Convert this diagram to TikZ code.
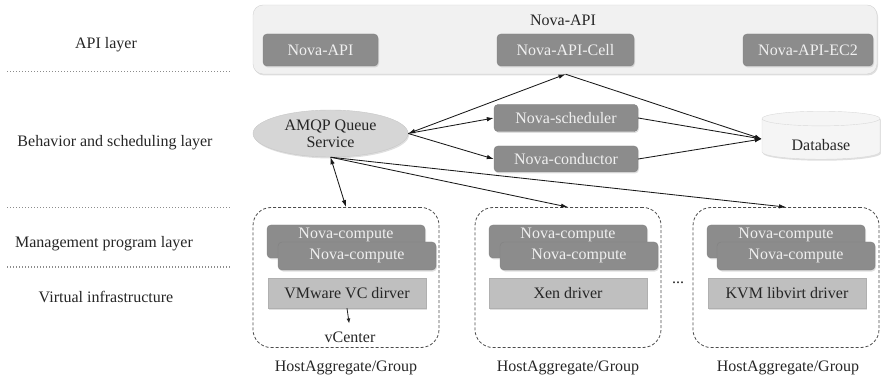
\documentclass[tikz,border=0pt]{standalone}
\usepackage{fontspec}
\setmainfont{Liberation Serif}
\usetikzlibrary{arrows.meta,positioning,shapes.geometric,shadows}

\definecolor{boxdark}{HTML}{8C8C8C}
\definecolor{boxlight}{HTML}{BFBFBF}
\definecolor{panel}{HTML}{F1F1F1}
\definecolor{panelline}{HTML}{D2D2D2}
\definecolor{inkgray}{HTML}{262626}

\begin{document}
\begin{tikzpicture}[x=1pt, y=-1pt,
    every node/.style={font=\fontsize{16}{18}\selectfont, text=inkgray, inner sep=2pt},
    softshadow/.style={drop shadow={opacity=0.25, shadow xshift=1pt, shadow yshift=-1.5pt}},
    darkbox/.style={draw=boxdark!92!black, fill=boxdark, rounded corners=4pt, text=white!94!black, minimum height=32pt, inner sep=0pt, softshadow},
    drvbox/.style={draw=boxlight!92!black, fill=boxlight, minimum width=158pt, minimum height=30pt, inner sep=0pt, softshadow},
    grpbox/.style={draw=black!70, dash pattern=on 3pt off 2pt, rounded corners=18pt, minimum width=186pt, minimum height=140pt, line width=0.8pt},
    link/.style={-{Latex[length=7pt, width=4.5pt]}, line width=0.85pt, black!90},
    twoway/.style={{Latex[length=7pt, width=4.5pt]}-{Latex[length=7pt, width=4.5pt]}, line width=0.85pt, black!90},
    layerline/.style={dotted, line width=1pt, black!45}]

    \useasboundingbox (0,0) rectangle (881,382);

    % layer names on the left
    \node (lapi) at (106,45) {API layer};
    \node (lsched) at (115,143) {Behavior and scheduling layer};
    \node (lmgmt) at (104,244) {Management program layer};
    \node (lvirt) at (106,297) {Virtual infrastructure};
    \draw[layerline] (7,72) -- (230,72);
    \draw[layerline] (7,208) -- (230,208);
    \draw[layerline] (7,267) -- (230,267);

    % API layer
    \node[fill=panel, draw=panelline, rounded corners=10pt, minimum width=624pt, minimum height=69pt, softshadow] (api) at (565,39.5) {};
    \node (apititle) at (563,20) {Nova-API};
    \node[darkbox, minimum width=115pt] (napi) at (320.5,50) {Nova-API};
    \node[darkbox, minimum width=137pt] (cell) at (565.5,50) {Nova-API-Cell};
    \node[darkbox, minimum width=130pt] (ec2) at (808,50) {Nova-API-EC2};
    \coordinate (cellfoot) at (cell |- api.south);

    % behavior and scheduling layer
    \node[ellipse, fill=black!16, draw=black!22, minimum width=155pt, minimum height=47pt, inner sep=0pt, align=center, softshadow] (amqp) at (330.5,133.5) {AMQP Queue\\[-1pt]Service};
    \node[darkbox, minimum width=144pt, minimum height=27pt] (sched) at (566,118) {Nova-scheduler};
    \node[darkbox, minimum width=144pt, minimum height=26pt] (cond) at (566,159) {Nova-conductor};
    \node[cylinder, shape border rotate=90, aspect=0.25, fill=black!4, draw=black!15, minimum width=118pt, minimum height=48pt, inner sep=0pt, softshadow] (db) at (821,139) {\raisebox{-12pt}[0pt][0pt]{Database}};

    % host aggregates
    \node[grpbox] (g1) at (346,277.5) {};
    \node[grpbox] (g2) at (568,277.5) {};
    \node[grpbox] (g3) at (786,277.5) {};

    \node[darkbox, minimum width=158pt, minimum height=33pt] (c1a) at (346,241.5) {\raisebox{2.5pt}[0pt][0pt]{Nova-compute}};
    \node[darkbox, minimum width=158pt, minimum height=28pt] (c1b) at (357,256) {Nova-compute};
    \node[drvbox] (d1) at (347,293) {VMware VC dirver};
    \node (vc) at (350,337) {vCenter};

    \node[darkbox, minimum width=158pt, minimum height=33pt] (c2a) at (568,241.5) {\raisebox{2.5pt}[0pt][0pt]{Nova-compute}};
    \node[darkbox, minimum width=158pt, minimum height=28pt] (c2b) at (579,256) {Nova-compute};
    \node[drvbox] (d2) at (568,293) {Xen driver};

    \node[darkbox, minimum width=158pt, minimum height=33pt] (c3a) at (786,241.5) {\raisebox{2.5pt}[0pt][0pt]{Nova-compute}};
    \node[darkbox, minimum width=158pt, minimum height=28pt] (c3b) at (796,256) {Nova-compute};
    \node[drvbox] (d3) at (787,293) {KVM libvirt driver};

    \node (dots) at (678,283) {...};

    \node (h1) at (346,368) {HostAggregate/Group};
    \node (h2) at (568,368) {HostAggregate/Group};
    \node (h3) at (788,368) {HostAggregate/Group};

    % connectors
    \draw[twoway] (amqp.east) -- (cellfoot);
    \draw[link] (amqp.east) -- (sched.west);
    \draw[link] (amqp.east) -- (cond.west);
    \draw[link] (cellfoot) -- (db.west);
    \draw[link] (sched.east) -- (db.west);
    \draw[link] (cond.east) -- (db.west);
    \draw[twoway] (amqp.south) -- (g1.north);
    \draw[link] (amqp.south) -- (g2.north);
    \draw[link] (amqp.south) -- (g3.north);
    \draw[-{Latex[length=5pt, width=4pt]}, line width=0.8pt, black!85, shorten >=6pt] (d1.south) -- (vc.north);
\end{tikzpicture}
\end{document}
